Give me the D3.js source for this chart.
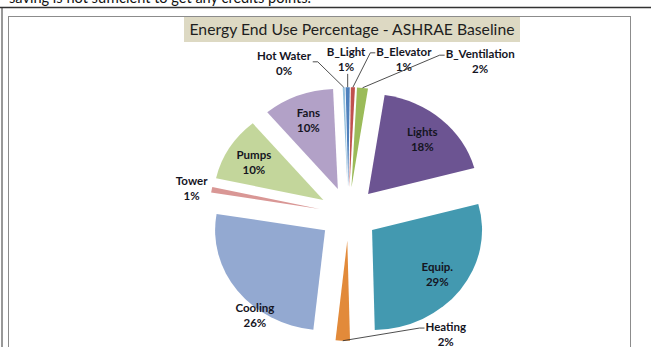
<!DOCTYPE html>
<html>
<head>
<meta charset="utf-8">
<script src="https://cdn.jsdelivr.net/npm/d3@7"></script>
<style>
  body { margin: 0; background: #fff; }
  svg { display: block; font-family: Lato, "Open Sans", sans-serif; }
</style>
</head>
<body>
<svg id="chart" width="651" height="347"></svg>
<script>
// ---- data -------------------------------------------------------------
const categories = ["Hot Water", "B_Light", "B_Elevator", "B_Ventilation", "Lights",
                    "Equip.", "Heating", "Cooling", "Tower", "Pumps", "Fans"];
const shares = [0.3, 0.6, 0.6, 1.6, 18.4, 28.8, 2.1, 25.9, 0.9, 10.4, 10.4];
const sliceColors = ["#95C1DE", "#4F81BD", "#C0504D", "#9BBB59", "#6C5492",
                     "#4399B0", "#E28A3A", "#93A9D1", "#D99795", "#C3D69B", "#B2A1C7"];
const chartTitle = "Energy End Use Percentage - ASHRAE Baseline";
const pageText = "saving is not sufficient to get any credits points.";

// ---- layout -----------------------------------------------------------
const W = 651, H = 347;
const cx = 348.5, cy = 214, R = 110, squash = 0.91, explode = 29.4;
const rotation = -2.5 * Math.PI / 180;
const insideFactor = 0.74;
// labels that sit outside (or at a custom spot): polar position from the pie centre
const labelSpots = {
  "Hot Water":     { deg: 338.8, dist: 1.62, leader: "right" },
  "B_Light":       { deg: -0.8,  dist: 1.55, leader: "below" },
  "B_Elevator":    { deg: 18.0,  dist: 1.63, leader: "left"  },
  "B_Ventilation": { deg: 38.1,  dist: 1.94, leader: "left"  },
  "Tower":         { deg: 280.5, dist: 1.45, leader: null    },
  "Heating":       { deg: 143.6, dist: 1.49, leader: "left"  },
  "Cooling":       { deg: 217.0, dist: 1.06, leader: null, fromApex: true }
};

const svg = d3.select("#chart");

// page furniture around the embedded chart
svg.append("text").attr("x", 9).attr("y", 3)
  .attr("font-family", "Lato, sans-serif").attr("font-size", 15).attr("fill", "#111")
  .attr("textLength", 302).attr("lengthAdjust", "spacingAndGlyphs")
  .text(pageText);
svg.append("line").attr("x1", 0).attr("x2", W).attr("y1", 7.5).attr("y2", 7.5)
  .attr("stroke", "#333").attr("stroke-width", 1.5);
svg.append("line").attr("x1", 2).attr("x2", 2).attr("y1", 7).attr("y2", H)
  .attr("stroke", "#333").attr("stroke-width", 1);

// chart area
svg.append("rect").attr("x", 8.5).attr("y", 16.5).attr("width", 622).attr("height", H)
  .attr("fill", "#fff").attr("stroke", "#8c8c8c").attr("stroke-width", 1);

// title
svg.append("rect").attr("x", 184).attr("y", 17).attr("width", 336).attr("height", 25)
  .attr("fill", "#DDD9C3");
svg.append("text").attr("x", 352).attr("y", 35).attr("text-anchor", "middle")
  .attr("font-size", 16).attr("fill", "#1e1e1e")
  .attr("textLength", 325).attr("lengthAdjust", "spacingAndGlyphs")
  .text(chartTitle);

// ---- pie --------------------------------------------------------------
const data = categories.map((c, i) => ({ name: c, v: shares[i], color: sliceColors[i] }));
const total = d3.sum(shares);
const pie = d3.pie().sort(null).value(d => d.v)
  .startAngle(rotation).endAngle(rotation + 2 * Math.PI);
const arcs = pie(data);
const arc = d3.arc().innerRadius(0).outerRadius(R);

const mid = a => (a.startAngle + a.endAngle) / 2;
const apex = a => [explode * Math.sin(mid(a)), -explode * Math.cos(mid(a))];
const toScreen = (x, y) => [cx + x, cy + y * squash];

const pieG = svg.append("g")
  .attr("transform", `translate(${cx},${cy}) scale(1,${squash})`);
pieG.selectAll("path").data(arcs).join("path")
  .attr("transform", a => `translate(${apex(a)[0]},${apex(a)[1]})`)
  .attr("d", arc)
  .attr("fill", a => a.data.color);

// ---- labels -----------------------------------------------------------
const labelG = svg.append("g").attr("font-size", 11.5).attr("font-weight", 700)
  .attr("fill", "#15151f");
const leaderG = svg.append("g").attr("fill", "none").attr("stroke", "#222")
  .attr("stroke-width", 0.8);

arcs.forEach(a => {
  const name = a.data.name;
  const pct = Math.round(a.data.v / total * 100) + "%";
  const spot = labelSpots[name];
  let pos;
  if (!spot) {
    const [ax, ay] = apex(a), m = mid(a);
    pos = toScreen(ax + insideFactor * R * Math.sin(m), ay - insideFactor * R * Math.cos(m));
  } else if (spot.fromApex) {
    const [ax, ay] = apex(a), t = spot.deg * Math.PI / 180;
    pos = toScreen(ax + spot.dist * R * Math.sin(t), ay - spot.dist * R * Math.cos(t));
  } else {
    const t = spot.deg * Math.PI / 180;
    pos = toScreen(spot.dist * R * Math.sin(t), -spot.dist * R * Math.cos(t));
  }
  const t = labelG.append("text").attr("text-anchor", "middle");
  t.append("tspan").attr("x", pos[0]).attr("y", pos[1] - 3).text(name);
  t.append("tspan").attr("x", pos[0]).attr("y", pos[1] + 12).text(pct);

  if (spot && spot.leader) {
    const bb = t.node().getBBox();
    const [ax, ay] = apex(a), m = mid(a);
    const tip = toScreen(ax + R * Math.sin(m), ay - R * Math.cos(m));
    let pts;
    if (spot.leader === "right") {
      const y0 = pos[1] - 1;
      pts = [[bb.x + bb.width + 1, y0], [bb.x + bb.width + 6, y0], tip];
    } else if (spot.leader === "left") {
      const y0 = pos[1] - 6;
      pts = [[bb.x - 1, y0], [bb.x - 6, y0], tip];
    } else {
      pts = [[tip[0], bb.y + bb.height + 1], tip];
    }
    leaderG.append("path").attr("d", d3.line()(pts));
  }
});
</script>
</body>
</html>
